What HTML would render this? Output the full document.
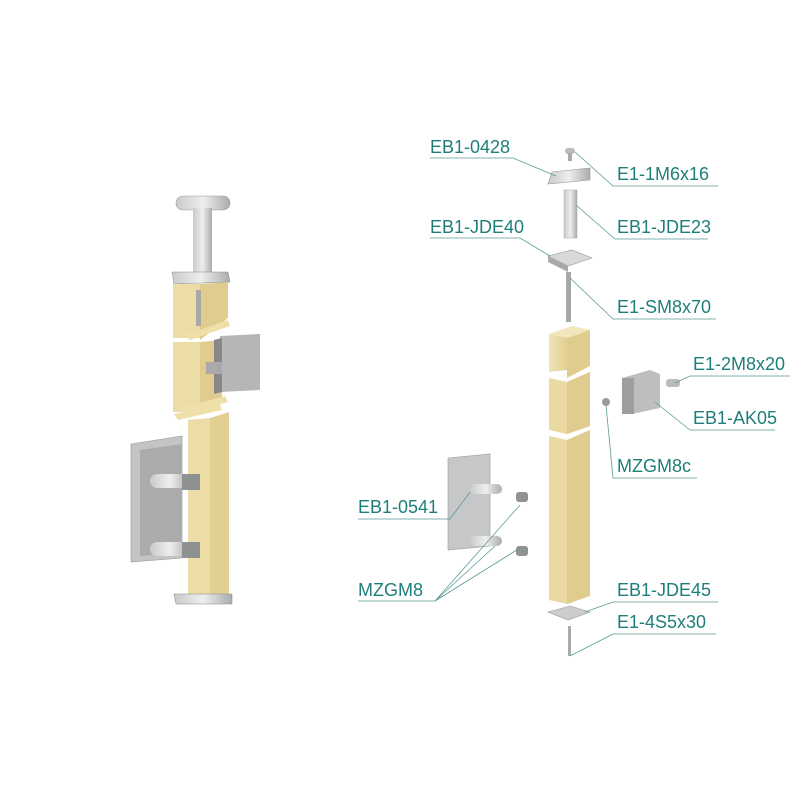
<!DOCTYPE html>
<html><head><meta charset="utf-8"><style>
html,body{margin:0;padding:0;background:#fff}
svg{display:block}
text{font-family:"Liberation Sans","DejaVu Sans",sans-serif;font-size:18px;fill:#1e7f7a}
.l{stroke:#5a9a94;stroke-width:0.8;fill:none}
</style></head><body>
<svg width="800" height="800" viewBox="0 0 800 800">
<defs>
<linearGradient id="wood" x1="0" x2="1"><stop offset="0" stop-color="#f0e3b4"/><stop offset="1" stop-color="#e2cf92"/></linearGradient>
<linearGradient id="met" x1="0" x2="1"><stop offset="0" stop-color="#c9cacb"/><stop offset="0.5" stop-color="#eeeeee"/><stop offset="1" stop-color="#a9abad"/></linearGradient>
</defs>
<!-- LEFT ASSEMBLY -->
<rect x="176" y="196" width="54" height="14" rx="7" fill="url(#met)" stroke="#999" stroke-width="0.6"/>
<rect x="193" y="208" width="19" height="64" fill="url(#met)"/>
<polygon points="172,272 228,272 230,282 174,284" fill="url(#met)" stroke="#888" stroke-width="0.5"/>
<polygon points="173,284 200,284 200,338 173,338" fill="#ecdca6"/>
<polygon points="200,284 228,282 228,318 200,340" fill="#e0cc8e"/>
<rect x="196" y="290" width="5" height="36" fill="#a8a8a8"/>
<polygon points="185,335 228,320 230,326 190,340" fill="#efdfa8"/>
<polygon points="173,342 200,342 200,412 173,412" fill="#ecdca6"/>
<polygon points="200,342 222,340 222,400 200,415" fill="#e0cc8e"/>
<polygon points="220,336 260,334 260,390 220,392" fill="#b5b6b8"/>
<polygon points="214,340 222,338 222,392 214,394" fill="#888"/>
<rect x="206" y="362" width="16" height="12" fill="#aaa"/>
<polygon points="180,408 225,396 228,402 185,414" fill="#efdfa8"/>
<polygon points="174,414 220,404 222,410 178,420" fill="#efdfa8"/>
<polygon points="188,420 210,418 210,598 188,598" fill="#ecdca6"/>
<polygon points="210,418 229,412 229,598 210,598" fill="#e2cf92"/>
<polygon points="131,444 182,436 182,558 131,562" fill="#c3c4c5" stroke="#999" stroke-width="0.6"/>
<polygon points="140,450 182,444 182,552 140,556" fill="#a9abad"/>
<rect x="150" y="474" width="40" height="14" rx="7" fill="url(#met)"/>
<rect x="182" y="474" width="18" height="16" fill="#8e9092"/>
<rect x="150" y="542" width="40" height="14" rx="7" fill="url(#met)"/>
<rect x="182" y="542" width="18" height="16" fill="#8e9092"/>
<polygon points="174,594 232,594 232,604 176,604" fill="url(#met)" stroke="#888" stroke-width="0.5"/>
<!-- RIGHT EXPLODED -->
<rect x="565" y="148" width="10" height="6" rx="3" fill="#bbb"/><rect x="568" y="153" width="4" height="8" fill="#aaa"/>
<polygon points="552,172 590,168 590,180 548,184" fill="url(#met)" stroke="#999" stroke-width="0.6"/>
<rect x="564" y="190" width="13" height="48" fill="url(#met)" stroke="#aaa" stroke-width="0.5"/>
<polygon points="548,256 572,250 592,258 568,266" fill="#d8d9da" stroke="#999" stroke-width="0.6"/>
<polygon points="548,256 568,266 568,272 548,262" fill="#aaa"/>
<rect x="566" y="272" width="5" height="50" fill="#a6a7a8"/>
<polygon points="549,334 572,326 590,330 567,338" fill="#f2e6bc"/>
<polygon points="549,334 567,338 567,370 549,372" fill="url(#wood)"/>
<polygon points="567,338 590,330 590,366 567,378" fill="#e0cc8e"/>
<polygon points="549,378 567,382 590,372 590,426 567,434 549,430" fill="#ead9a1"/>
<polygon points="567,382 590,372 590,426 567,434" fill="#e0cc8e"/>
<polygon points="549,436 567,440 590,430 590,596 567,604 549,600" fill="#ead9a1"/>
<polygon points="567,440 590,430 590,596 567,604" fill="#e0cc8e"/>
<polygon points="548,612 570,606 590,612 568,620" fill="#ccc" stroke="#999" stroke-width="0.6"/>
<rect x="568" y="626" width="3" height="30" fill="#aaa"/>
<polygon points="622,378 650,370 660,374 660,408 632,414 622,410" fill="#bdbebf"/>
<rect x="622" y="378" width="12" height="36" fill="#9c9ea0"/>
<rect x="666" y="379" width="14" height="8" rx="3" fill="#bbb"/>
<circle cx="606" cy="402" r="4" fill="#9a9a9a"/>
<polygon points="448,458 490,454 490,546 448,550" fill="#c6c7c8" stroke="#999" stroke-width="0.6"/>
<rect x="470" y="484" width="32" height="10" rx="5" fill="url(#met)"/>
<rect x="470" y="536" width="32" height="10" rx="5" fill="url(#met)"/>
<rect x="516" y="492" width="12" height="10" rx="3" fill="#8f9193"/>
<rect x="516" y="546" width="12" height="10" rx="3" fill="#8f9193"/>
<!-- LABELS -->
<text x="430" y="153">EB1-0428</text><path class="l" d="M430 158 H513 L556 176"/>
<text x="617" y="180">E1-1M6x16</text><path class="l" d="M718 186 H613 L575 152"/>
<text x="617" y="233">EB1-JDE23</text><path class="l" d="M708 239 H615 L576 205"/>
<text x="430" y="233">EB1-JDE40</text><path class="l" d="M430 238 H520 L550 256"/>
<text x="617" y="313">E1-SM8x70</text><path class="l" d="M716 319 H613 L570 278"/>
<text x="693" y="370">E1-2M8x20</text><path class="l" d="M790 376 H690 L675 383"/>
<text x="693" y="424">EB1-AK05</text><path class="l" d="M775 430 H690 L655 402"/>
<text x="617" y="472">MZGM8c</text><path class="l" d="M697 478 H613 L606 405"/>
<text x="358" y="513">EB1-0541</text><path class="l" d="M358 519 H450 L470 492"/>
<text x="358" y="596">MZGM8</text><path class="l" d="M358 601 H435 L520 505 M435 601 L520 548 M435 601 L495 546"/>
<text x="617" y="596">EB1-JDE45</text><path class="l" d="M718 602 H613 L585 612"/>
<text x="617" y="628">E1-4S5x30</text><path class="l" d="M716 634 H613 L570 656"/>
</svg>
</body></html>
